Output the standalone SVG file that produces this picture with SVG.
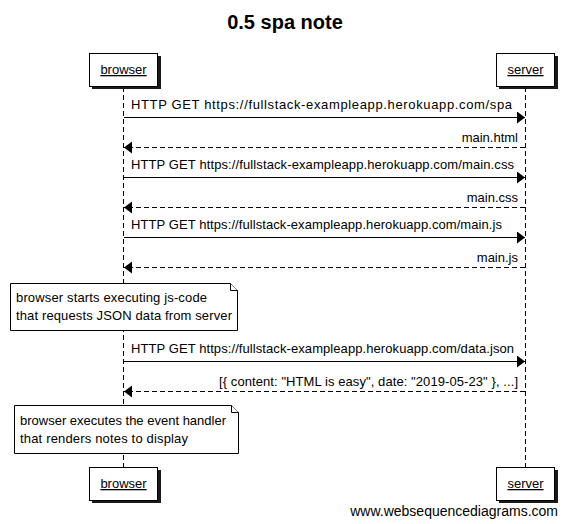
<svg xmlns="http://www.w3.org/2000/svg" width="569" height="524" viewBox="0 0 569 524">
<style>
text{font-family:"Liberation Sans",Arial,sans-serif;fill:#000}
.title{font-size:20px;font-weight:bold}
.lbl{font-size:13px}
.pl{font-size:13px;text-decoration:underline}
.box{fill:#fff;stroke:#000;stroke-width:1}
.shadow{fill:#1a1a1a}
.life{stroke:#000;stroke-width:1;stroke-dasharray:5,3;fill:none}
.msg{stroke:#000;stroke-width:1;fill:none}
.ret{stroke:#000;stroke-width:1;stroke-dasharray:5,3;fill:none}
.note{fill:#fff;stroke:#000;stroke-width:1}
.wm{font-size:14px}
</style>
<defs>
<marker id="ah" markerUnits="userSpaceOnUse" markerWidth="9" markerHeight="13" refX="8" refY="6" orient="auto">
<path d="M0,0 L8,6 L0,12 Z" fill="#000"/>
</marker>
</defs>
<rect width="569" height="524" fill="#fff"/>
<text class="title" x="285" y="29" text-anchor="middle">0.5 spa note</text>

<g id="lifelines">
<line class="life" x1="123.5" y1="87" x2="123.5" y2="467"/>
<line class="life" x1="525.5" y1="87" x2="525.5" y2="467"/>
</g>

<g id="browser-top">
<rect class="shadow" x="92" y="56" width="69" height="33"/>
<rect class="box" x="89.5" y="53.5" width="68" height="33"/>
<text class="pl" x="123.5" y="74" text-anchor="middle">browser</text>
</g>
<g id="server-top">
<rect class="shadow" x="499" y="56" width="59" height="33"/>
<rect class="box" x="496.5" y="53.5" width="58" height="33"/>
<text class="pl" x="525.5" y="74" text-anchor="middle">server</text>
</g>
<g id="browser-bottom">
<rect class="shadow" x="92" y="470" width="69" height="33"/>
<rect class="box" x="89.5" y="467.5" width="68" height="33"/>
<text class="pl" x="123.5" y="488" text-anchor="middle">browser</text>
</g>
<g id="server-bottom">
<rect class="shadow" x="499" y="470" width="59" height="33"/>
<rect class="box" x="496.5" y="467.5" width="58" height="33"/>
<text class="pl" x="525.5" y="488" text-anchor="middle">server</text>
</g>

<g id="connectors">
<line class="msg" x1="124" y1="117.5" x2="525" y2="117.5" marker-end="url(#ah)"/>
<text class="lbl" x="131" y="109" textLength="381" lengthAdjust="spacing">HTTP GET https://fullstack-exampleapp.herokuapp.com/spa</text>
<line class="ret" x1="525" y1="147.5" x2="124" y2="147.5" marker-end="url(#ah)"/>
<text class="lbl" x="518" y="142" text-anchor="end">main.html</text>
<line class="msg" x1="124" y1="177.5" x2="525" y2="177.5" marker-end="url(#ah)"/>
<text class="lbl" x="131" y="169" textLength="383" lengthAdjust="spacing">HTTP GET https://fullstack-exampleapp.herokuapp.com/main.css</text>
<line class="ret" x1="525" y1="207.5" x2="124" y2="207.5" marker-end="url(#ah)"/>
<text class="lbl" x="518" y="202" text-anchor="end">main.css</text>
<line class="msg" x1="124" y1="237.5" x2="525" y2="237.5" marker-end="url(#ah)"/>
<text class="lbl" x="131" y="229" textLength="371" lengthAdjust="spacing">HTTP GET https://fullstack-exampleapp.herokuapp.com/main.js</text>
<line class="ret" x1="525" y1="267.5" x2="124" y2="267.5" marker-end="url(#ah)"/>
<text class="lbl" x="518" y="262" text-anchor="end">main.js</text>
<line class="msg" x1="124" y1="361.5" x2="525" y2="361.5" marker-end="url(#ah)"/>
<text class="lbl" x="131" y="353" textLength="383" lengthAdjust="spacing">HTTP GET https://fullstack-exampleapp.herokuapp.com/data.json</text>
<line class="ret" x1="525" y1="391.5" x2="124" y2="391.5" marker-end="url(#ah)"/>
<text class="lbl" x="518" y="386" text-anchor="end" textLength="299" lengthAdjust="spacing">[{ content: "HTML is easy", date: "2019-05-23" }, ...]</text>
</g>

<g id="note1">
<path class="note" d="M10.5,283.5 H230.5 L237.5,290.5 V330.5 H10.5 Z"/>
<path class="note" d="M230.5,283.5 V290.5 H237.5" fill="none"/>
<text class="lbl" x="16" y="302" textLength="191" lengthAdjust="spacing">browser starts executing js-code</text>
<text class="lbl" x="16" y="320" textLength="216" lengthAdjust="spacing">that requests JSON data from server</text>
</g>
<g id="note2">
<path class="note" d="M14.5,405.5 H231.5 L238.5,412.5 V453.5 H14.5 Z"/>
<path class="note" d="M231.5,405.5 V412.5 H238.5" fill="none"/>
<text class="lbl" x="20" y="425" textLength="206" lengthAdjust="spacing">browser executes the event handler</text>
<text class="lbl" x="20" y="443" textLength="168" lengthAdjust="spacing">that renders notes to display</text>
</g>

<text class="wm" x="558" y="516" text-anchor="end">www.websequencediagrams.com</text>
</svg>
